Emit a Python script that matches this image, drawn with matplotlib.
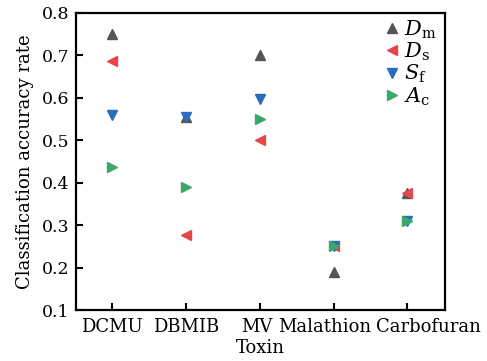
import matplotlib
matplotlib.use("Agg")
import matplotlib.pyplot as plt
import matplotlib.transforms as mtransforms

categories = ["DCMU", "DBMIB", "MV", "Malathion", "Carbofuran"]
Dm = [0.75, 0.555, 0.70, 0.19, 0.375]
Ds = [0.688, 0.278, 0.50, 0.25, 0.375]
Sf = [0.56, 0.555, 0.598, 0.25, 0.31]
Ac = [0.438, 0.39, 0.55, 0.25, 0.31]
yticks = [0.1, 0.2, 0.3, 0.4, 0.5, 0.6, 0.7, 0.8]

plt.rcParams['font.family'] = ['DejaVu Serif']
plt.rcParams['mathtext.fontset'] = 'dejavuserif'

fig = plt.figure(figsize=(4.87, 3.61), dpi=100)
ax = fig.add_axes([0.156, 0.141, 0.758, 0.823])
x = list(range(len(categories)))
ms = 7
ax.plot(x, Dm, linestyle='none', marker='^', color='#555555', ms=ms, label=r'$D_{\mathrm{m}}$')
ax.plot(x, Ds, linestyle='none', marker='<', color='#e8474a', ms=ms, label=r'$D_{\mathrm{s}}$')
ax.plot(x, Sf, linestyle='none', marker='v', color='#2a6ebb', ms=ms, label=r'$S_{\mathrm{f}}$')
ax.plot(x, Ac, linestyle='none', marker='>', color='#3aa86b', ms=ms, label=r'$A_{\mathrm{c}}$')

ax.set_xlim(-0.49, 4.51)
ax.set_ylim(0.1, 0.8)
ax.set_xticks(x)
ax.set_xticklabels(categories, fontsize=13)
ax.set_yticks(yticks)
ax.set_yticklabels([f"{v:.1f}" for v in yticks], fontsize=12.5)
ax.tick_params(direction='in', width=1.5, length=5, pad=5)
ax.tick_params(axis='x', pad=6)
for s in ax.spines.values():
    s.set_linewidth(1.6)

# shift crowded tick labels apart, as in the reference
shifts = {"MV": -3, "Malathion": -9, "Carbofuran": 21}
for lbl in ax.get_xticklabels():
    dx = shifts.get(lbl.get_text(), 0)
    if dx:
        lbl.set_transform(lbl.get_transform() + mtransforms.ScaledTranslation(dx / 100, 0, fig.dpi_scale_trans))

ax.set_xlabel("Toxin", fontsize=13, labelpad=2)
ax.set_ylabel("Classification accuracy rate", fontsize=13, labelpad=5)
leg = ax.legend(loc='upper right', frameon=False, fontsize=15, handletextpad=0.1,
                handlelength=1.0, labelspacing=0.0, borderaxespad=0.0,
                bbox_to_anchor=(1.0, 1.01))
fig.savefig("out.png", dpi=100)
